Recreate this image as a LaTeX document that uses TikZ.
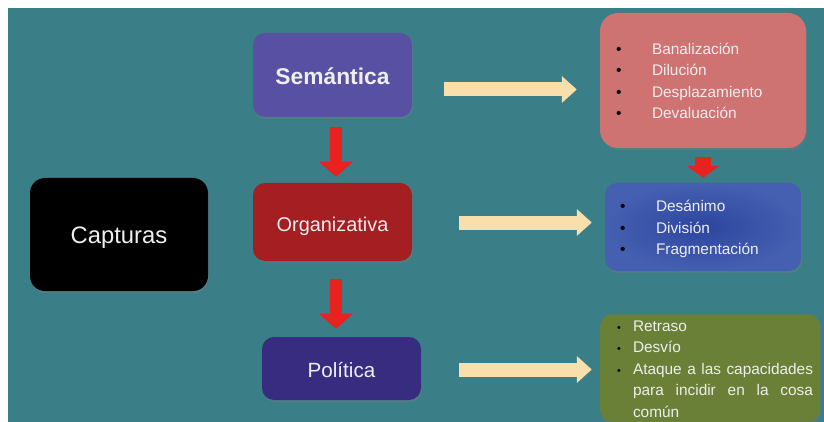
\documentclass[tikz,border=0pt]{standalone}
\usepackage{fontspec}
\setmainfont{Liberation Sans}
\usetikzlibrary{arrows.meta,shadows}
\definecolor{tealbg}{HTML}{3A7E87}
\definecolor{semcol}{HTML}{5750A3}
\definecolor{orgcol}{HTML}{A41E22}
\definecolor{polcol}{HTML}{382C80}
\definecolor{pinkcol}{HTML}{CE7272}
\definecolor{bluecol}{HTML}{4560B0}
\definecolor{bluedark}{HTML}{2C46A0}
\definecolor{greencol}{HTML}{6A8036}
\definecolor{arrowred}{HTML}{E8231F}
\definecolor{cream}{HTML}{F9DFAC}
\definecolor{textgray}{HTML}{EEEEEE}
\newcommand{\liststrut}{\rule[-4.5pt]{0pt}{21.5pt}}
\newcommand{\dotitem}[3]{\hspace*{#1}\makebox[#2][l]{\textcolor{black}{\textbullet}}#3\liststrut}
\newcommand{\minidot}[3]{\hspace*{#1}\makebox[#2][l]{\textcolor{black}{\scalebox{0.7}{\textbullet}}}#3\liststrut}
\tikzset{
    box/.style={rounded corners=12pt, text=textgray, inner sep=0pt, text height=18.5pt, text depth=0pt,
        drop shadow={shadow xshift=1pt, shadow yshift=-2pt, opacity=0.3}},
    listbox/.style={box, text height=, text depth=, align=left, font=\fontsize{15.4}{21.5}\selectfont},
    redarrow/.style={draw=arrowred, line width=12pt, -{Triangle[length=15pt,width=33pt]}},
    creamarrow/.style={draw=cream, line width=14pt, -{Triangle[length=15pt,width=26pt]}}
}
\begin{document}
\begin{tikzpicture}[x=1pt,y=-1pt]
            \useasboundingbox (0,0) rectangle (824,422);
            \fill[tealbg] (8,8) rectangle (824,422);
            \node[box, fill=black, rounded corners=15pt, minimum width=178pt, minimum height=113pt,
                font=\fontsize{23.8}{28}\selectfont](cap) at (119,234.5) {Capturas};
            \node[box, fill=semcol, minimum width=159pt, minimum height=84pt,
                font=\fontsize{22.8}{26}\selectfont\bfseries](sem) at (332.5,75) {Semántica};
            \node[box, fill=orgcol, minimum width=159pt, minimum height=78pt,
                font=\fontsize{19.9}{24}\selectfont](org) at (332.5,222) {Organizativa};
            \node[box, fill=polcol, minimum width=159pt, minimum height=63pt,
                font=\fontsize{20.6}{24}\selectfont](pol) at (341.5,368.5) {Política};
            \node[listbox, fill=pinkcol, rounded corners=18pt, minimum width=206pt, minimum height=135pt,
                text width=206pt](pink) at (703,80.5) {%
                \dotitem{16pt}{36pt}{Banalización}\\
                \dotitem{16pt}{36pt}{Dilución}\\
                \dotitem{16pt}{36pt}{Desplazamiento}\\
                \dotitem{16pt}{36pt}{Devaluación}};
            \node[listbox, shading=radial, inner color=bluedark, outer color=bluecol,
                minimum width=196pt, minimum height=88pt, text width=196pt](blue) at (703,227) {%
                \dotitem{15pt}{36pt}{Desánimo}\\
                \dotitem{15pt}{36pt}{División}\\
                \dotitem{15pt}{36pt}{Fragmentación}};
            \node[listbox, fill=greencol, minimum width=220pt, minimum height=104pt,
                text width=220pt](green) at (710,368) {%
                \minidot{17pt}{16pt}{Retraso}\\
                \minidot{17pt}{16pt}{Desvío}\\
                \minidot{17pt}{16pt}{\makebox[180pt][l]{Ataque \hfill a \hfill las \hfill capacidades}}\\
                \hspace*{33pt}\makebox[180pt][l]{para \hfill incidir \hfill en \hfill la \hfill cosa}\liststrut\\
                \hspace*{33pt}común\liststrut};
            \draw[redarrow, shorten <=10pt, shorten >=6pt] ([xshift=3.5pt]sem.south) -- ([xshift=3.5pt]org.north);
            \draw[redarrow, shorten <=18pt, shorten >=8pt] ([xshift=3.5pt]org.south) -- ([xshift=3.5pt]org.south |- pol.north);
            \draw[redarrow, line width=16pt, -{Triangle[length=12pt,width=32pt]},
                shorten <=9pt, shorten >=5pt] (pink.south) -- (pink.south |- blue.north);
            \draw[creamarrow, shorten <=32pt, shorten >=23pt] ([yshift=-14.5pt]sem.east) -- ([yshift=-14.5pt]sem.east -| pink.west);
            \draw[creamarrow, shorten <=47pt, shorten >=13pt] ([yshift=-0.5pt]org.east) -- ([yshift=-0.5pt]org.east -| blue.west);
            \draw[creamarrow, shorten <=38pt, shorten >=8pt] ([yshift=-1pt]pol.east) -- ([yshift=-1pt]pol.east -| green.west);
        \end{tikzpicture}
\end{document}
